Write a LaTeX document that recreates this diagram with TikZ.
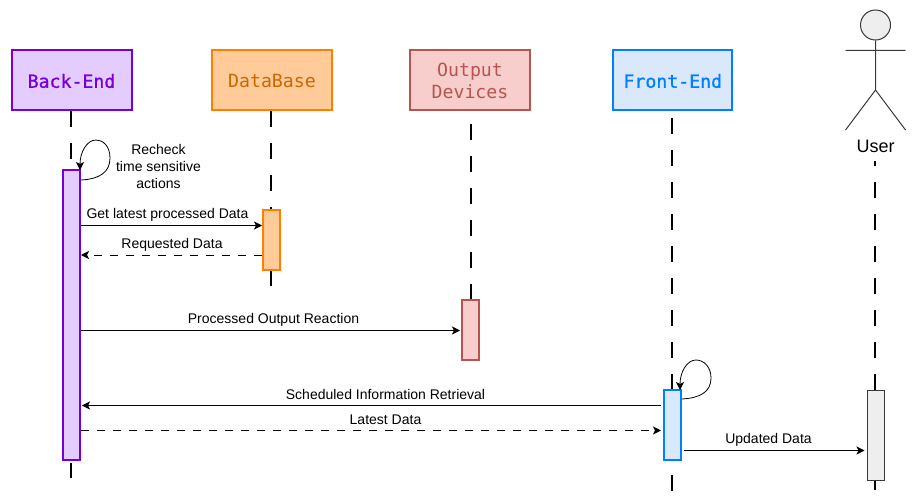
\documentclass[tikz,border=0pt]{standalone}
\usepackage{fontspec}
\usetikzlibrary{arrows.meta}
\setmainfont{Liberation Sans}
\newfontfamily\monofam{DejaVu Sans Mono}
\newfontfamily\monomed[FakeBold=0.9]{DejaVu Sans Mono}
\newcommand{\headtxt}[1]{\raisebox{-1pt}[\height][\depth]{#1}}
\definecolor{backfill}{HTML}{E5CCFF}
\definecolor{backline}{HTML}{7700D9}
\definecolor{dbfill}{HTML}{FFCC99}
\definecolor{dbline}{HTML}{FF8000}
\definecolor{dbtext}{HTML}{CC6600}
\definecolor{outfill}{HTML}{F8CECC}
\definecolor{outline}{HTML}{B85450}
\definecolor{frontfill}{HTML}{DAE8FC}
\definecolor{frontline}{HTML}{007FFF}
\definecolor{userfill}{HTML}{EEEEEE}
\definecolor{userline}{HTML}{36393D}
\tikzset{
	head/.style={draw=#1, line width=2pt, minimum width=120pt, minimum height=60pt,
		align=center, inner sep=0pt, font=\monofam\fontsize{18.2}{22}\selectfont},
	bar/.style={line width=2pt, minimum width=17pt, inner sep=0pt},
	lifeline/.style={line width=2pt, dash pattern=on 16pt off 16pt},
	msg/.style={line width=1pt, ->},
	reply/.style={msg, dash pattern=on 8pt off 8pt},
	lbl/.style={font=\fontsize{14}{17}\selectfont, inner sep=0pt, align=center}
}
\begin{document}
\begin{tikzpicture}[>={Stealth[length=8pt,width=8pt,inset=2pt]}, x=1pt, y=-1pt]
	\useasboundingbox (0,0) rectangle (916,503);
	% heads
	\node[head=backline, fill=backfill, text=backline, font=\monomed\fontsize{18.2}{22}\selectfont] (back) at (71.5,80) {\headtxt{Back-End}};
	\node[head=dbline, fill=dbfill, text=dbtext] (db) at (272,80) {\headtxt{DataBase}};
	\node[head=outline, fill=outfill, text=outline] (out) at (470,80) {\headtxt{Output}\\\headtxt{Devices}};
	\node[head=frontline, fill=frontfill, text=frontline, minimum width=119pt, font=\monomed\fontsize{18.2}{22}\selectfont] (front) at (672.8,80) {\headtxt{Front-End}};
	% actor
	\node[circle, draw=userline, fill=userfill, line width=1pt, minimum size=30pt, inner sep=0pt] (userhead) at (875.5,25) {};
	\coordinate (hip) at (875.5,90);
	\coordinate (armL) at (845.5,50.5);
	\coordinate (armR) at (905.5,50.5);
	\coordinate (legL) at (845.5,130);
	\coordinate (legR) at (905.5,130);
	\draw[userline, line width=1pt] (userhead) -- (hip) (armL) -- (armR) (legL) -- (hip) -- (legR);
	\node[lbl, font=\fontsize{18}{22}\selectfont] (user) at (875.5,146) {User};
	% lifeline ends
	\coordinate (backEnd) at (71,478);
	\coordinate (dbEnd) at (271.4,286);
	\coordinate (outStart) at (470.5,124);
	\coordinate (outEnd) at (470.5,300);
	\coordinate (frontStart) at (672.4,118);
	\coordinate (frontMid) at (672.4,390);
	\coordinate (frontLow) at (672.4,475);
	\coordinate (frontEnd) at (672.4,491);
	\coordinate (userStart) at (875.4,161);
	\coordinate (userMid) at (875.4,390);
	\coordinate (userEnd) at (875.4,490);
	\draw[lifeline] (71,111) -- (backEnd);
	\draw[lifeline] (271.4,111) -- (dbEnd);
	\draw[lifeline] (outStart) -- (outEnd);
	\draw[lifeline] (frontStart) -- (frontMid);
	\draw[line width=2pt] (frontLow) -- (frontEnd);
	\draw[lifeline, dash phase=11pt] (userStart) -- (userMid);
	% bars
	\node[bar, draw=backline, fill=backfill, minimum height=290pt] (backbar) at (71.5,315) {};
	\node[bar, draw=dbline, fill=dbfill, minimum height=60pt] (dbbar) at (271.5,240) {};
	\node[bar, draw=outline, fill=outfill, minimum height=60pt] (outbar) at (470.5,330) {};
	\node[bar, draw=frontline, fill=frontfill, minimum height=70pt] (frontbar) at (672.5,425) {};
	\node[bar, draw=userline, fill=userfill, line width=1pt, minimum height=90pt] (userbar) at (875.5,435.5) {};
	\draw[line width=2pt] (userbar.south -| userEnd) -- (userEnd);
	% messages
	\draw[->, line width=.8pt] (backbar.east |- 0,180) .. controls (100,179) and (110,172) .. (110,158) .. controls (110,146) and (103,140) .. (96,140) .. controls (87,140) and (80,152) .. (80,170);
	\draw[->, line width=.8pt] (frontbar.east |- 0,399) .. controls (700,398) and (711,392) .. (711,378) .. controls (711,367) and (704,360) .. (696,360) .. controls (687,360) and (680,372) .. (680,390);
	\draw[msg] (backbar.east |- 0,225.5) -- (dbbar.west |- 0,225.5);
	\draw[reply] (dbbar.west |- 0,255) -- (backbar.east |- 0,255);
	\draw[msg] (backbar.east |- 0,330.5) -- ([xshift=-1pt]outbar.west |- 0,330.5);
	\draw[msg] ([xshift=-2pt]frontbar.west |- 0,405.5) -- ([xshift=1pt]backbar.east |- 0,405.5);
	\draw[reply] (backbar.east |- 0,430.5) -- ([xshift=-2pt]frontbar.west |- 0,430.5);
	\draw[msg] ([xshift=2pt]frontbar.east |- 0,450.5) -- ([xshift=-2pt]userbar.west |- 0,450.5);
	% labels
	\node[lbl] (recheck) at (158.5,166) {Recheck\\time sensitive\\actions};
	\node[lbl] (getlbl) at (167.5,214.5) {Get latest processed Data};
	\node[lbl] (reqlbl) at (172,244.5) {Requested Data};
	\node[lbl] (proclbl) at (273.5,319.5) {Processed Output Reaction};
	\node[lbl] (schedlbl) at (385.5,394.5) {Scheduled Information Retrieval};
	\node[lbl] (latestlbl) at (385.5,419.5) {Latest Data};
	\node[lbl] (updlbl) at (768.5,439.5) {Updated Data};
\end{tikzpicture}
\end{document}
